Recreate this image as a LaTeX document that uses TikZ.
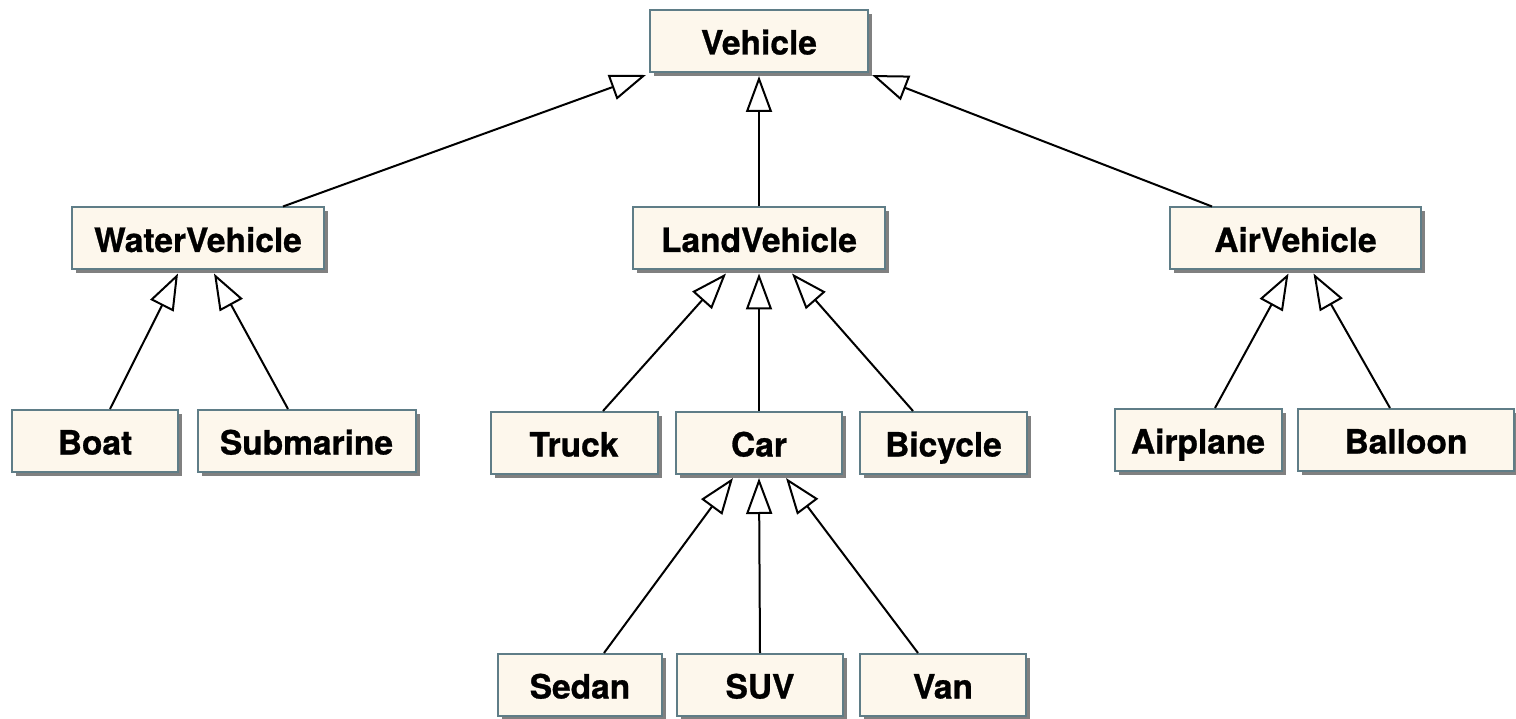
\documentclass[tikz,border=0pt]{standalone}
\usepackage{fontspec}
\setmainfont{TeX Gyre Heros}[BoldFeatures={FakeBold=0.8}]
\usetikzlibrary{arrows.meta}
\definecolor{boxfill}{RGB}{253,247,236}
\definecolor{boxline}{RGB}{95,125,135}
\definecolor{shadowgray}{RGB}{128,128,128}
\tikzset{
  cls/.style={draw=boxline, line width=2pt, fill=boxfill, rectangle,
    minimum height=62pt, inner sep=0pt, text height=27pt, text depth=0pt,
    font=\fontsize{33.5}{36}\selectfont\bfseries,
    preaction={fill=shadowgray, transform canvas={xshift=4pt,yshift=-4pt}}},
  inh/.style={line width=2pt, -{Triangle[open, fill=white, length=36pt, width=26pt]}}
}
\begin{document}
\begin{tikzpicture}[x=1pt,y=-1pt]
\useasboundingbox (0,0) rectangle (1516,719);
% tier 1
\node[cls, minimum width=218pt] (vehicle) at (759,41) {Vehicle};
% tier 2
\node[cls, minimum width=252pt] (water) at (198,238.5) {WaterVehicle};
\node[cls, minimum width=252pt] (land) at (759,238.5) {LandVehicle};
\node[cls, minimum width=251pt] (air) at (1295.5,238.5) {AirVehicle};
% tier 3
\node[cls, minimum width=166pt] (boat) at (95,441) {Boat};
\node[cls, minimum width=218pt] (sub) at (306.5,441) {Submarine};
\node[cls, minimum width=167pt] (truck) at (574,443) {Truck};
\node[cls, minimum width=166pt] (car) at (759,443) {Car};
\node[cls, minimum width=167pt] (bicycle) at (943.5,443) {Bicycle};
\node[cls, minimum width=167pt] (airplane) at (1198,440) {Airplane};
\node[cls, minimum width=216pt] (balloon) at (1406,440) {Balloon};
% tier 4
\node[cls, minimum width=164pt] (sedan) at (580,685) {Sedan};
\node[cls, minimum width=166pt] (suv) at (760,685) {SUV};
\node[cls, minimum width=166pt] (van) at (943,685) {Van};
% connectors
\draw[inh] ([xshift=85pt]water.north) -- ([xshift=-3pt,yshift=-2pt]vehicle.south west);
\draw[inh] (land.north) -- ([yshift=-3pt]vehicle.south);
\draw[inh] ([xshift=-83.5pt]air.north) -- ([xshift=3pt,yshift=-2pt]vehicle.south east);
\draw[inh] ([xshift=15pt]boat.north) -- ([xshift=-20pt,yshift=-3pt]water.south);
\draw[inh] ([xshift=-18.5pt]sub.north) -- ([xshift=16pt,yshift=-3pt]water.south);
\draw[inh] ([xshift=29pt]truck.north) -- ([xshift=-33pt,yshift=-3pt]land.south);
\draw[inh] (car.north) -- ([yshift=-3pt]land.south);
\draw[inh] ([xshift=-30.5pt]bicycle.north) -- ([xshift=33pt,yshift=-3pt]land.south);
\draw[inh] ([xshift=17pt]airplane.north) -- ([xshift=-7pt,yshift=-3pt]air.south);
\draw[inh] ([xshift=-16pt]balloon.north) -- ([xshift=18pt,yshift=-3pt]air.south);
\draw[inh] ([xshift=24pt]sedan.north) -- ([xshift=-26pt,yshift=-3pt]car.south);
\draw[inh] (suv.north) -- ([yshift=-3pt]car.south);
\draw[inh] ([xshift=-25pt]van.north) -- ([xshift=27pt,yshift=-3pt]car.south);
\end{tikzpicture}
\end{document}
